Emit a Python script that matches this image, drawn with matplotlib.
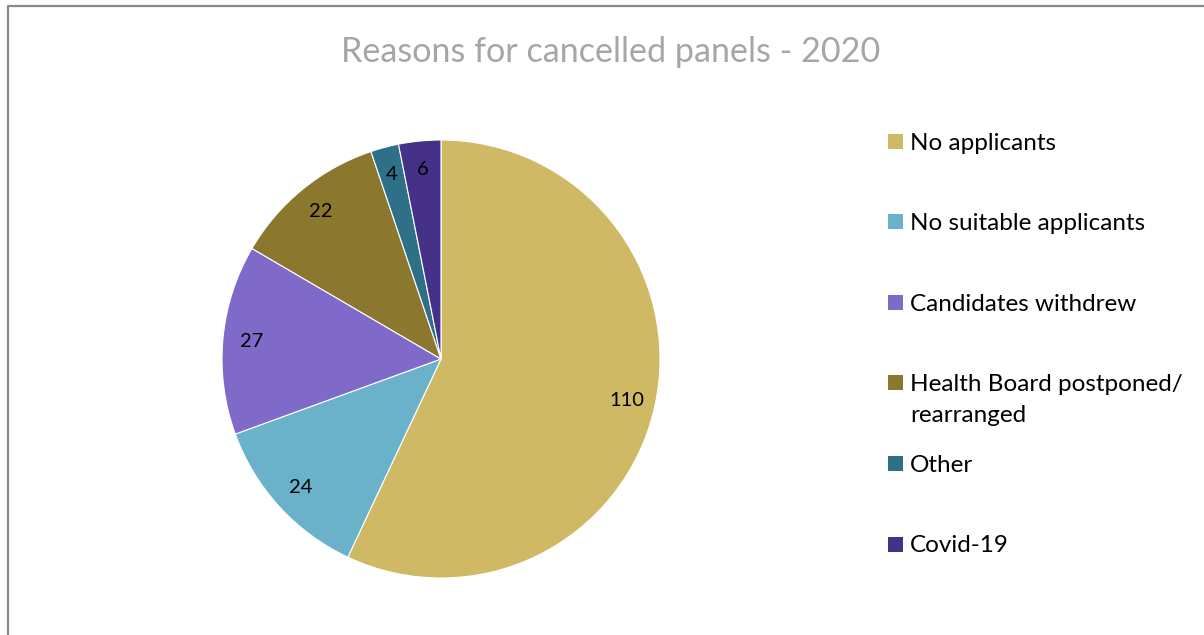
import matplotlib.pyplot as plt
from matplotlib.patches import Rectangle
from matplotlib.lines import Line2D

# Cancelled panel counts by reason
reasons = ['No applicants', 'No suitable applicants', 'Candidates withdrew',
           'Health Board postponed/\nrearranged', 'Other', 'Covid-19']
counts = [110, 24, 27, 22, 4, 6]
colours = ['#CFB965', '#6AB2CA', '#7F6ACA', '#8C772F', '#2E7087', '#453288']

plt.rcParams['font.family'] = ['Lato', 'DejaVu Sans']

W, H = 1204, 635
fig = plt.figure(figsize=(W / 100, H / 100), dpi=100)

# Pie area: centre and radius in pixels
cx, cy, r = 441, 359, 219
ax = fig.add_axes([(cx - r) / W, (H - cy - r) / H, 2 * r / W, 2 * r / H])
total = sum(counts)
wedges, _, autotexts = ax.pie(
    counts, colors=colours, startangle=90, counterclock=False, radius=1,
    autopct=lambda p: '{:.0f}'.format(p * total / 100), pctdistance=0.87,
    wedgeprops=dict(edgecolor='white', linewidth=0.8),
    textprops=dict(fontsize=14.5, color='black'))
ax.set_xlim(-1, 1)
ax.set_ylim(-1, 1)
ax.set_aspect('equal')
ax.axis('off')

fig.text(611 / W, 1 - 62 / H, 'Reasons for cancelled panels - 2020',
         ha='center', va='baseline', fontsize=24.6, color='#A6A6A6')

# Legend drawn by hand so the two-line entry keeps the even spacing
top, step, line_h = 141, 80.6, 31
for i, (name, col) in enumerate(zip(reasons, colours)):
    y = top + i * step
    fig.add_artist(Rectangle((888 / W, 1 - (y + 7.5) / H), 15 / W, 15 / H,
                             transform=fig.transFigure, facecolor=col,
                             edgecolor='none'))
    for j, line in enumerate(name.split('\n')):
        fig.text(910 / W, 1 - (y + 8.5 + j * line_h) / H, line, ha='left',
                 va='baseline', fontsize=17.5, color='black')

# Chart frame (only the top and left edges are inside the canvas)
fig.add_artist(Line2D([8 / W, 8 / W, 1.01], [-0.01, 1 - 6 / H, 1 - 6 / H],
                      transform=fig.transFigure, color='#898989', linewidth=1.6))

fig.savefig('out.png', dpi=100)
